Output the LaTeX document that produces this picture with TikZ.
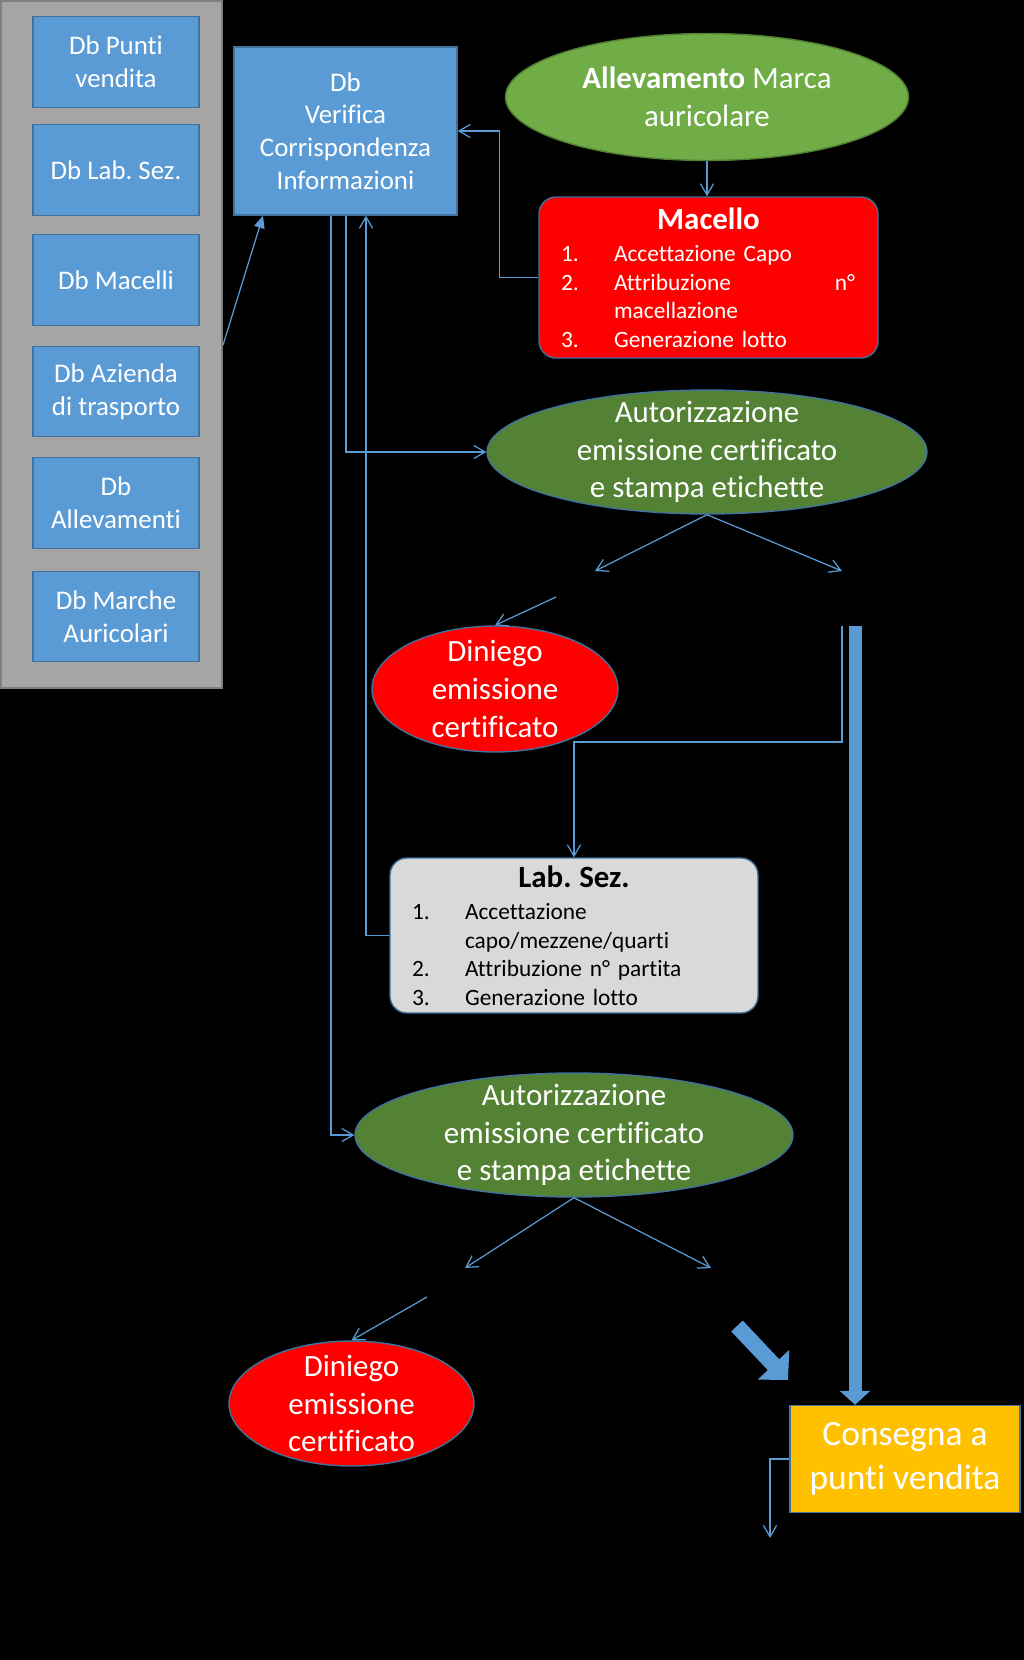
\documentclass[tikz,border=0pt]{standalone}
\usepackage{fontspec}
\setmainfont{Carlito}[Ligatures=NoCommon]
\frenchspacing
\usetikzlibrary{arrows.meta,shapes.geometric}
\definecolor{dbfill}{HTML}{5B9BD5}
\definecolor{dbline}{HTML}{41719C}
\definecolor{panelfill}{HTML}{A5A5A5}
\definecolor{panelline}{HTML}{7F7F7F}
\definecolor{allevgreen}{HTML}{70AD47}
\definecolor{allevline}{HTML}{507E32}
\definecolor{autogreen}{HTML}{548235}
\definecolor{macred}{HTML}{FF0000}
\definecolor{labgray}{HTML}{D9D9D9}
\definecolor{consyellow}{HTML}{FFC000}
\definecolor{connblue}{HTML}{5B9BD5}
\newcommand{\fntdb}{\fontsize{15.3pt}{18.6pt}\selectfont}
\newcommand{\fntbig}{\fontsize{17.6pt}{21.4pt}\selectfont}
\newcommand{\fntlist}{\fontsize{13.3pt}{16.3pt}\selectfont}
\newcommand{\fntcons}{\fontsize{20.2pt}{25pt}\selectfont}
\newcommand{\stepline}[2]{\makebox[1.06cm][l]{#1}#2\par}

\begin{document}
\begin{tikzpicture}[x=0.02cm, y=-0.02cm]
        \tikzset{dbbox/.style={rectangle, draw=dbline, line width=0.8pt, fill=dbfill, text=white, align=center, font=\fntdb, minimum width=3.32cm, minimum height=1.81cm, inner sep=0pt}}
        \tikzset{ovalbox/.style={ellipse, draw=dbline, line width=0.8pt, text=white, align=center, font=\fntbig, inner xsep=0pt, inner ysep=-3mm}}
        \tikzset{stepbox/.style={rectangle, rounded corners=0.34cm, draw=dbline, line width=0.8pt, font=\fntlist, align=left, inner xsep=0.44cm, inner ysep=0pt}}
        \tikzset{consbox/.style={rectangle, draw=dbline, line width=0.8pt, fill=consyellow, text=white, align=center, font=\fntcons, minimum width=4.6cm, minimum height=2.14cm, inner sep=0pt}}
        \tikzset{conn/.style={draw=connblue, line width=0.7pt, -{Straight Barb[length=6.5pt,width=7.5pt]}}}
        \tikzset{feed/.style={draw=connblue, line width=0.7pt, -{Triangle[length=7pt,width=6pt]}}}
        \tikzset{bararrow/.style={draw=connblue, line width=7.4pt, -{Triangle[length=8pt,width=17pt]}}}
        \useasboundingbox (0,0) rectangle (1024,1660);
        \fill[black] (0,0) rectangle (1024,1660);
        \node[rectangle, draw=panelline, line width=1.2pt, fill=panelfill, minimum width=4.42cm, minimum height=13.74cm, inner sep=0pt] (dbpanel) at (111.5,344.5) {};
        \node[dbbox] (dbpv) at (116,62) {Db Punti\\vendita};
        \node[dbbox] (dblab) at (116,170) {Db Lab. Sez.};
        \node[dbbox] (dbmac) at (116,280) {Db Macelli};
        \node[dbbox] (dbtra) at (116,391.5) {Db Azienda\\di trasporto};
        \node[dbbox] (dball) at (116,503) {Db\\Allevamenti};
        \node[dbbox] (dbmar) at (116,616.5) {Db Marche\\Auricolari};
        \node[dbbox, minimum width=4.46cm, minimum height=3.36cm] (dbv) at (345.5,131) {Db\\Verifica\\Corrispondenza\\Informazioni};
        \node[ovalbox, fill=allevgreen, draw=allevline, minimum width=8.06cm, minimum height=2.54cm] (allev) at (707,97) {\textbf{Allevamento} Marca\\auricolare};
        \node[stepbox, fill=macred, text=white, minimum width=6.78cm, minimum height=3.22cm, text width=5.9cm] (macello) at (708.5,277.5) {%
            {\centering\fntbig\textbf{Macello}\par}\vspace{2pt}
            \stepline{1.}{Accettazione Capo}
            \stepline{2.}{\makebox[4.82cm][s]{Attribuzione\hfill n°}}
            \stepline{}{macellazione}
            \stepline{3.}{Generazione lotto}};
        \node[ovalbox, fill=autogreen, minimum width=8.8cm, minimum height=2.48cm] (auto1) at (707,452) {Autorizzazione\\emissione certificato\\e stampa etichette};
        \node[ovalbox, fill=macred, minimum width=4.92cm, minimum height=2.52cm] (diniego1) at (495,689) {Diniego\\emissione\\certificato};
        \node[stepbox, fill=labgray, text=black, minimum width=7.36cm, minimum height=3.1cm, text width=6.48cm] (labsez) at (574,935.5) {%
            {\centering\fntbig\textbf{Lab. Sez.}\par}\vspace{2pt}
            \stepline{1.}{Accettazione}
            \stepline{}{capo/mezzene/quarti}
            \stepline{2.}{Attribuzione n° partita}
            \stepline{3.}{Generazione lotto}};
        \node[ovalbox, fill=autogreen, minimum width=8.76cm, minimum height=2.48cm] (auto2) at (574,1135) {Autorizzazione\\emissione certificato\\e stampa etichette};
        \node[ovalbox, fill=macred, minimum width=4.9cm, minimum height=2.5cm] (diniego2) at (351.5,1403.5) {Diniego\\emissione\\certificato};
        \node[consbox] (consegna) at (905,1459) {Consegna a\\punti vendita};
        \coordinate (no1) at (595,571);
        \coordinate (yes1) at (842,571);
        \coordinate (no1from) at (556,597);
        \coordinate (yes1from) at (842,626);
        \coordinate (bartop) at (855,626);
        \coordinate (no2) at (465,1268);
        \coordinate (yes2) at (711,1268);
        \coordinate (no2from) at (427,1297);
        \coordinate (blocktail) at (737,1326);
        \coordinate (blocktip) at (788,1380);
        \coordinate (outend) at (770,1538);
        \draw[feed] (dbpanel.east |- 0,345) -- (263,0 |- dbv.south);
        \draw[conn] (allev.south) -- (allev.south |- macello.north);
        \draw[conn] (macello.west) -- ++(-39,0) |- (dbv.east);
        \draw[conn] (346,0 |- dbv.south) |- (auto1.west);
        \draw[conn] (331,0 |- dbv.south) |- (auto2.west);
        \draw[conn] (labsez.west) -| (366,0 |- dbv.south);
        \draw[conn] (auto1.south) -- (no1);
        \draw[conn] (auto1.south) -- (yes1);
        \draw[conn] (no1from) -- (diniego1.north);
        \draw[conn] (yes1from) -- (yes1from |- 0,742) -| (labsez.north);
        \draw[bararrow] (bartop) -- (bartop |- consegna.north);
        \draw[conn] (auto2.south) -- (no2);
        \draw[conn] (auto2.south) -- (yes2);
        \draw[conn] (no2from) -- (diniego2.north);
        \draw[bararrow, line width=9pt, -{Triangle[length=12pt,width=24pt]}] (blocktail) -- (blocktip);
        \draw[conn] (consegna.west) -| (outend);
    \end{tikzpicture}
\end{document}
